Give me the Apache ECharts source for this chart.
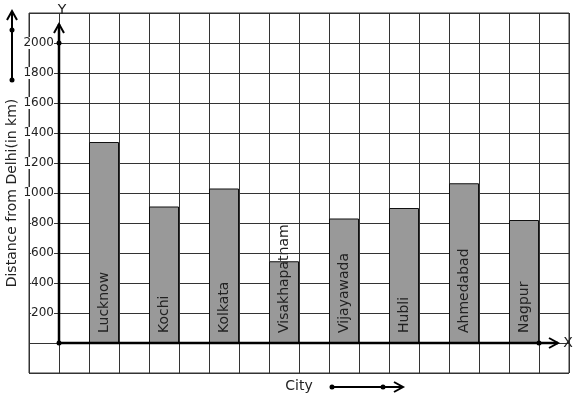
<!DOCTYPE html>
<html>
<head>
<meta charset="utf-8">
<script src="https://cdn.jsdelivr.net/npm/echarts@6/dist/echarts.min.js"></script>
<style>
html,body{margin:0;padding:0;background:#fff;}
#main{width:577px;height:399px;}
</style>
</head>
<body>
<div id="main"></div>
<script>
// ---- data ----
const cities = ['Lucknow', 'Kochi', 'Kolkata', 'Visakhapatnam', 'Vijayawada', 'Hubli', 'Ahmedabad', 'Nagpur'];
const distances = [1340, 910, 1030, 545, 830, 900, 1065, 820];
const yTickLabels = [200, 400, 600, 800, 1000, 1200, 1400, 1600, 1800, 2000];
const yTitle = 'Distance from Delhi(in km)';
const xTitle = 'City';

// graph-paper cells along x: 18 cells, cities sit in every other cell starting at cell 2
const cellCount = 18;
const cells = Array.from({length: cellCount}, (_, k) => 'c' + k);
const barData = cities.map((c, i) => [2 + 2 * i, distances[i]]);

const FONT = 'DejaVu Sans';
const INK = '#222';
const GRID = '#333';

const chart = echarts.init(document.getElementById('main'), null, {renderer: 'canvas'});

const option = {
  animation: false,
  backgroundColor: '#fff',
  grid: {left: 29, right: 8, top: 13, bottom: 26, show: true, borderColor: GRID, borderWidth: 1,
         containLabel: false, outerBoundsMode: 'none'},
  xAxis: {
    type: 'category',
    data: cells,
    boundaryGap: true,
    axisLine: {show: false},
    axisTick: {show: false},
    axisLabel: {show: false},
    splitLine: {show: true, interval: 0, lineStyle: {color: GRID, width: 1}},
    name: xTitle,
    nameLocation: 'middle',
    nameGap: 6,
    nameMoveOverlap: false,
    nameTextStyle: {fontFamily: FONT, fontSize: 14, color: INK}
  },
  yAxis: {
    type: 'value',
    min: -200,
    max: 2200,
    interval: 200,
    axisLine: {show: false},
    axisTick: {show: false},
    splitLine: {show: true, lineStyle: {color: GRID, width: 1}},
    axisLabel: {
      margin: -25,
      fontFamily: FONT,
      fontSize: 12,
      color: INK,
      backgroundColor: '#fff',
      padding: [0, 0, 0, 0],
      formatter: v => yTickLabels.indexOf(v) >= 0 ? String(v) : ''
    },
    name: yTitle,
    nameLocation: 'middle',
    nameGap: 10,
    nameRotate: 90,
    nameMoveOverlap: false,
    nameTextStyle: {fontFamily: FONT, fontSize: 14, color: INK}
  },
  series: [{
    type: 'bar',
    data: barData,
    barWidth: '100%',
    itemStyle: {color: '#999999', borderColor: '#111', borderWidth: 1},
    label: {
      show: true,
      position: 'insideBottom',
      rotate: 90,
      align: 'left',
      verticalAlign: 'middle',
      distance: 10,
      fontFamily: FONT,
      fontSize: 14,
      color: INK,
      formatter: p => cities[p.dataIndex]
    },
    z: 3
  }]
};
chart.setOption(option);

// ---- axes arrows & decorations derived from the axes ----
function px(cell, val) { return chart.convertToPixel({xAxisIndex: 0, yAxisIndex: 0}, [cell, val]); }
const a = px(0, 0), b = px(1, 0);
const xOrig = (a[0] + b[0]) / 2;
const yOrig = a[1];
const y2000 = px(0, 2000)[1];
const xLast = (px(cellCount - 2, 0)[0] + px(cellCount - 1, 0)[0]) / 2;
const ext = 19;
const lw = 2.5;
const W = chart.getWidth(), H = chart.getHeight();

function line(x1, y1, x2, y2, w) {
  return {type: 'line', shape: {x1, y1, x2, y2}, style: {stroke: '#000', lineWidth: w}, z: 100};
}
function dot(x, y) {
  return {type: 'circle', shape: {cx: x, cy: y, r: 2.5}, style: {fill: '#000'}, z: 101};
}
function chevron(x, y, dir, w) {
  if (dir === 'up') return {type: 'polyline', shape: {points: [[x - 5, y + 9], [x, y], [x + 5, y + 9]]}, style: {stroke: '#000', lineWidth: w, fill: null}, z: 101};
  return {type: 'polyline', shape: {points: [[x - 9, y - 5], [x, y], [x - 9, y + 5]]}, style: {stroke: '#000', lineWidth: w, fill: null}, z: 101};
}

const g = [];
// y axis
g.push(line(xOrig, yOrig, xOrig, y2000 - ext, lw));
g.push(chevron(xOrig, y2000 - ext, 'up', 2));
g.push(dot(xOrig, y2000));
g.push(dot(xOrig, yOrig));
// x axis
g.push(line(xOrig, yOrig, xLast + ext, yOrig, lw));
g.push(chevron(xLast + ext, yOrig, 'right', 2));
g.push(dot(xLast, yOrig));
// axis letters
g.push({type: 'text', x: xOrig + 3, y: 10, style: {text: 'Y', font: '14px ' + FONT, fill: INK, align: 'center', verticalAlign: 'middle'}, z: 101});
g.push({type: 'text', x: xLast + ext + 10, y: yOrig, style: {text: 'X', font: '14px ' + FONT, fill: INK, align: 'center', verticalAlign: 'middle'}, z: 101});
// left decorative arrow
const lx = 12;
g.push(line(lx, 80, lx, 11, 2));
g.push(chevron(lx, 11, 'up', 2));
g.push(dot(lx, 30));
g.push(dot(lx, 80));
// bottom decorative arrow
const by = H - 12;
g.push(line(332, by, 403, by, 2));
g.push(chevron(403, by, 'right', 2));
g.push(dot(332, by));
g.push(dot(383, by));

chart.setOption({graphic: g});
</script>
</body>
</html>
